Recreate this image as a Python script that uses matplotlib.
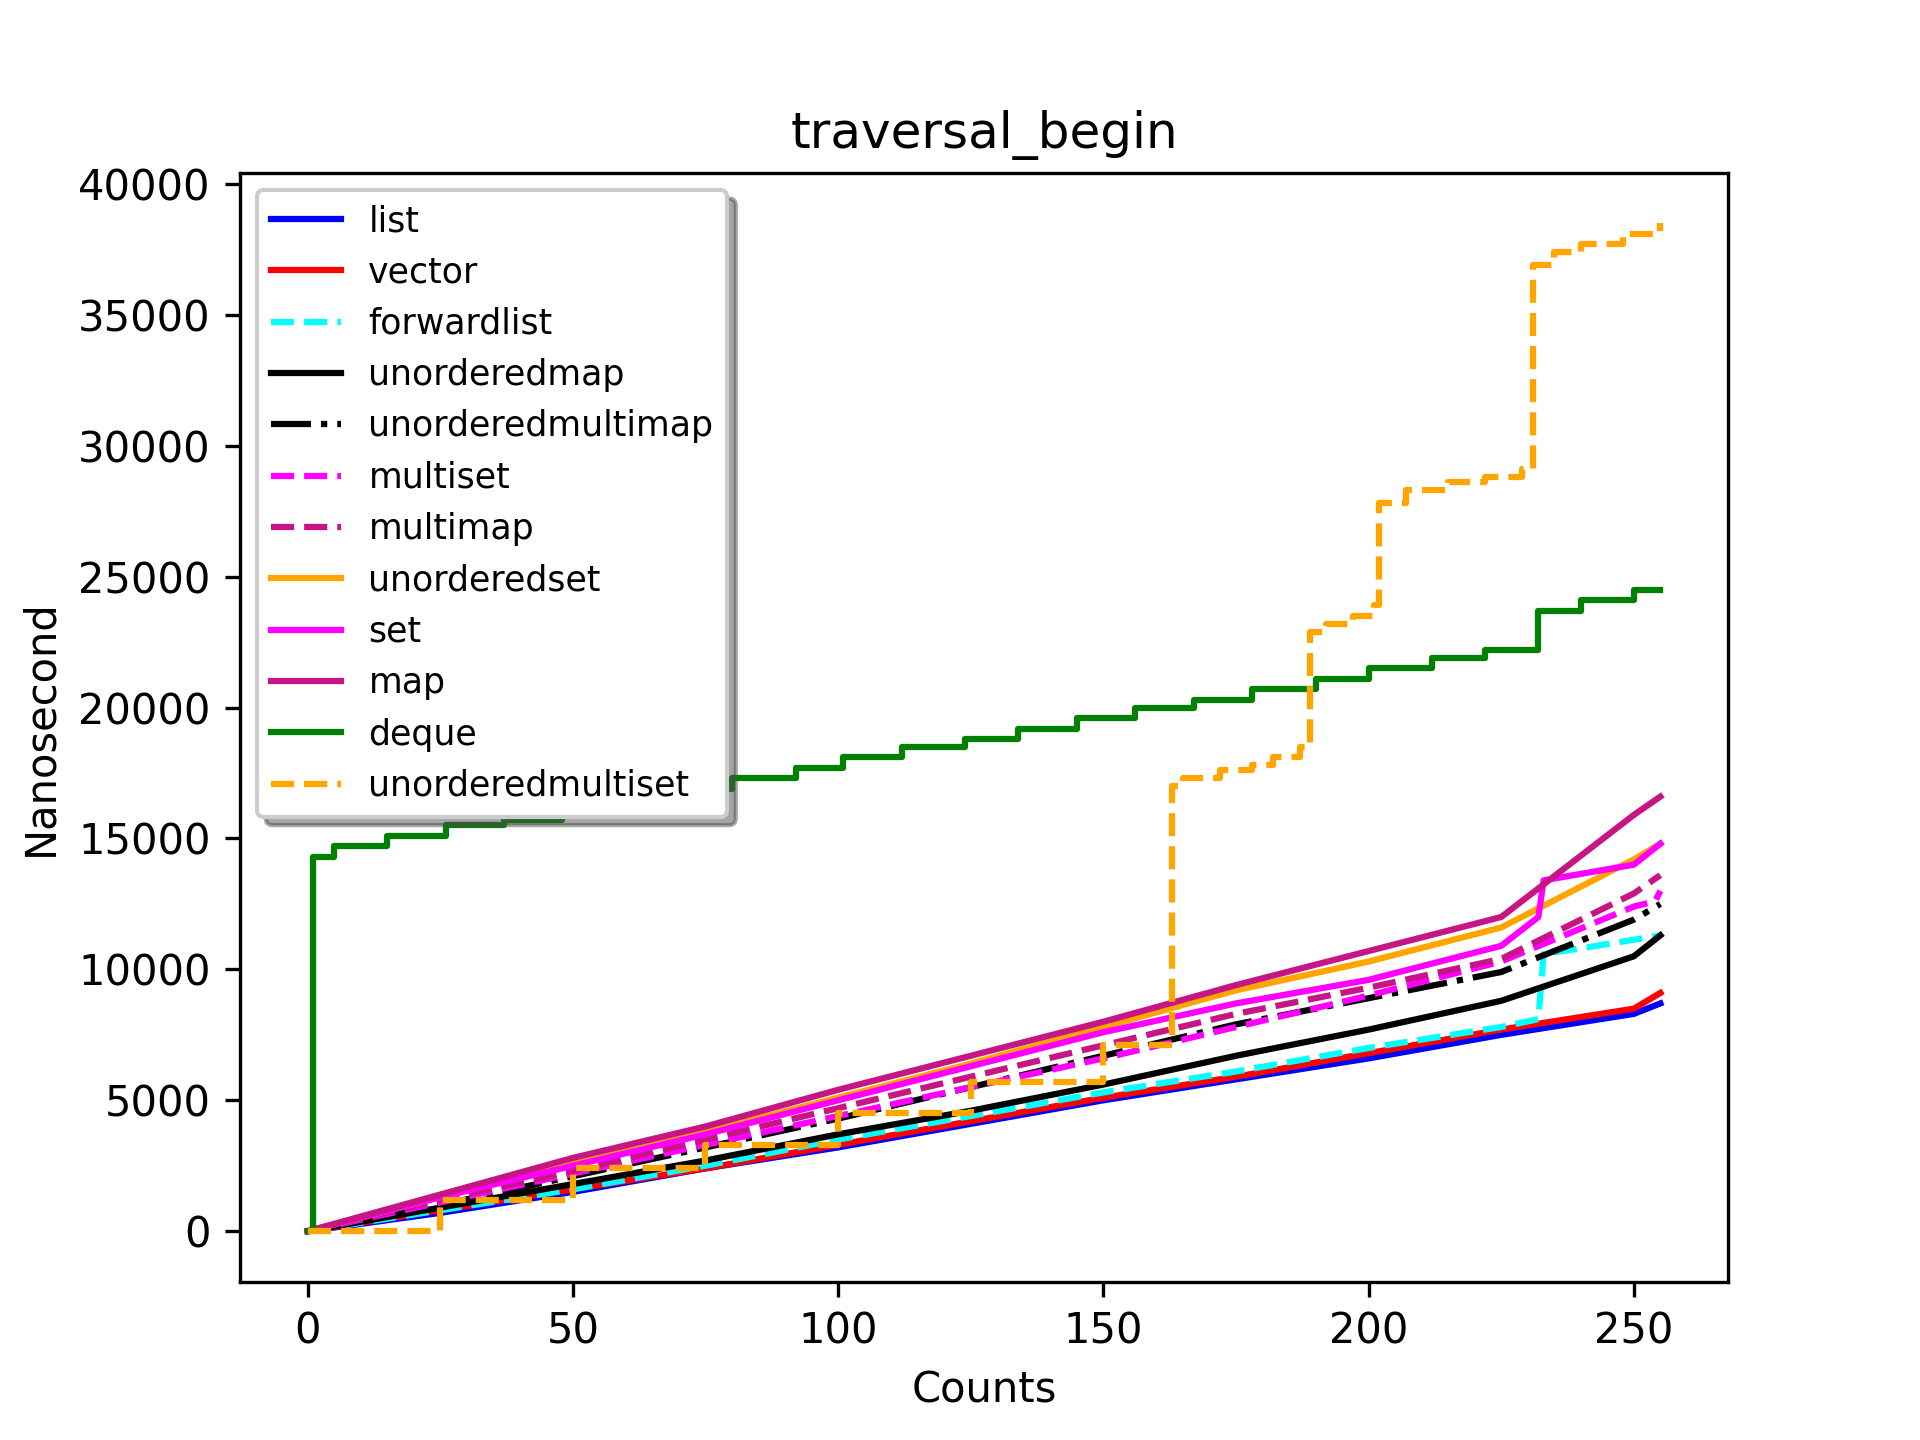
import matplotlib
matplotlib.use("Agg")
import matplotlib.pyplot as plt

# breakpoints of each curve: (count, nanoseconds); repeated counts mark jumps
x_lin = [0, 25, 50, 75, 100, 125, 150, 175, 200, 225, 250, 255]

list_y = [0, 700, 1500, 2400, 3200, 4100, 5000, 5800, 6600, 7500, 8300, 8700]
vector_y = [0, 800, 1600, 2400, 3300, 4200, 5100, 5900, 6800, 7700, 8500, 9100]
umap_y = [0, 900, 1800, 2700, 3700, 4600, 5600, 6700, 7700, 8800, 10500, 11300]
ummap_y = [0, 1000, 2100, 3200, 4300, 5500, 6700, 7900, 8900, 9900, 11900, 12500]
multimap_y = [0, 1200, 2300, 3500, 4700, 5900, 7100, 8300, 9300, 10400, 12900, 13600]
uset_y = [0, 1300, 2600, 3800, 5100, 6400, 7800, 9200, 10300, 11600, 14200, 14800]
map_y = [0, 1400, 2800, 4000, 5400, 6700, 8000, 9400, 10700, 12000, 15900, 16600]

fl_x = [0, 25, 50, 75, 100, 125, 150, 175, 200, 225, 232, 233, 240, 255]
fl_y = [0, 800, 1600, 2500, 3500, 4400, 5300, 6100, 7000, 7800, 8100, 10600, 10800, 11300]

mset_x = [0, 25, 50, 75, 100, 125, 150, 175, 200, 225, 250, 254, 255]
mset_y = [0, 1100, 2200, 3300, 4400, 5500, 6600, 7800, 9000, 10300, 12400, 12600, 13000]

set_x = [0, 25, 50, 75, 100, 125, 150, 175, 200, 225, 232, 233, 250, 255]
set_y = [0, 1300, 2500, 3700, 5000, 6300, 7600, 8700, 9600, 10900, 12000, 13400, 14000, 14800]

deque_x = [0, 1, 5, 15, 26, 37, 48, 58, 69, 80, 92, 101, 112, 124, 134, 145, 156,
           167, 178, 190, 200, 212, 222, 232, 240, 250, 255]
deque_y = [0, 14300, 14700, 15100, 15500, 15700, 16100, 16500, 16900, 17300, 17700,
           18100, 18500, 18800, 19200, 19600, 20000, 20300, 20700, 21100, 21500,
           21900, 22200, 23700, 24100, 24500, 24500]

ums_x = [0, 25, 50, 75, 100, 125, 150, 163, 165, 172, 178, 182, 187, 189, 192, 197,
         201, 202, 207, 215, 222, 229, 231, 235, 240, 248, 255]
ums_y = [0, 1200, 2400, 3300, 4500, 5700, 7100, 17000, 17300, 17600, 17800, 18100,
         18500, 22900, 23200, 23500, 23900, 27800, 28300, 28600, 28800, 29100,
         36900, 37400, 37700, 38100, 38500]

series = [
    ("list", x_lin, list_y, "b", "-"),
    ("vector", x_lin, vector_y, "r", "-"),
    ("forwardlist", fl_x, fl_y, "cyan", "--"),
    ("unorderedmap", x_lin, umap_y, "k", "-"),
    ("unorderedmultimap", x_lin, ummap_y, "k", "-."),
    ("multiset", mset_x, mset_y, "magenta", "--"),
    ("multimap", x_lin, multimap_y, "mediumvioletred", "--"),
    ("unorderedset", x_lin, uset_y, "orange", "-"),
    ("set", set_x, set_y, "magenta", "-"),
    ("map", x_lin, map_y, "mediumvioletred", "-"),
    ("deque", deque_x, deque_y, "green", "-"),
    ("unorderedmultiset", ums_x, ums_y, "orange", "--"),
]
stepped = {"deque", "unorderedmultiset"}

fig, ax = plt.subplots(figsize=(6.4, 4.8))
for name, xs, ys, c, ls in series:
    ds = "steps-post" if name in stepped else "default"
    ax.plot(xs, ys, color=c, linestyle=ls, drawstyle=ds, label=name, lw=1.5)
ax.set_title("traversal_begin")
ax.set_xlabel("Counts")
ax.set_ylabel("Nanosecond")
ax.legend(loc="upper left", shadow=True, fontsize="small")
fig.savefig("out.png", dpi=300)
